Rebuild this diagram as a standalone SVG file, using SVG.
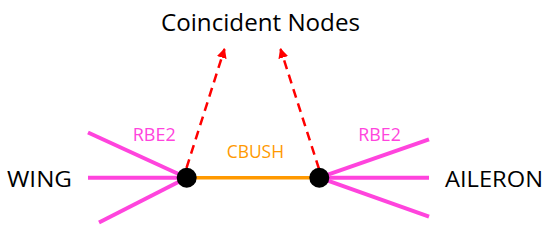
<svg xmlns="http://www.w3.org/2000/svg" width="550" height="233" viewBox="0 0 550 233">
<style>
text{font-family:"Open Sans","Liberation Sans",sans-serif}
.lbl{font-size:22px;fill:#000}
.rbe{stroke:#FF44DD;stroke-width:4;fill:none}
.cbush{stroke:#FF9900;stroke-width:3.5;fill:none}
.dash{stroke:#FF0000;stroke-width:2.5;stroke-dasharray:9,6;fill:none}
.node{fill:#000}
</style>
<defs>
<marker id="ah" viewBox="0 0 10 10" refX="9" refY="5" markerWidth="4" markerHeight="4" orient="auto" markerUnits="strokeWidth">
<path d="M0,0 L10,5 L0,10 Z" fill="#FF0000"/>
</marker>
</defs>
<rect width="550" height="233" fill="#fff"/>
<g id="connectors">
<line class="rbe" x1="88" y1="132.5" x2="186.7" y2="177.7"/>
<line class="rbe" x1="88" y1="177.7" x2="186.7" y2="177.7"/>
<line class="rbe" x1="99" y1="222.5" x2="186.7" y2="177.7"/>
<line class="rbe" x1="429" y1="139.3" x2="319.3" y2="177.7"/>
<line class="rbe" x1="429" y1="177.7" x2="319.3" y2="177.7"/>
<line class="rbe" x1="429" y1="216.7" x2="319.3" y2="177.7"/>
<line class="cbush" x1="186.7" y1="177.7" x2="319.3" y2="177.7"/>
<line class="dash" x1="186.5" y1="168" x2="224.5" y2="49" marker-end="url(#ah)"/>
<line class="dash" x1="319" y1="169" x2="280.5" y2="49" marker-end="url(#ah)"/>
</g>
<g id="node-wing-side"><circle class="node" cx="186.7" cy="177.7" r="10"/></g>
<g id="node-aileron-side"><circle class="node" cx="319.3" cy="177.7" r="10"/></g>
<g id="title"><text class="lbl" x="161" y="31" font-size="24" textLength="199" lengthAdjust="spacingAndGlyphs" style="font-size:24px">Coincident Nodes</text></g>
<g id="wing"><text class="lbl" x="7" y="187" textLength="65" lengthAdjust="spacingAndGlyphs">WING</text></g>
<g id="aileron"><text class="lbl" x="445" y="187" textLength="98" lengthAdjust="spacingAndGlyphs">AILERON</text></g>
<g id="rbe2-left"><text x="132.7" y="141.3" style="font-size:18px;fill:#FF44DD" textLength="43" lengthAdjust="spacingAndGlyphs">RBE2</text></g>
<g id="rbe2-right"><text x="358.3" y="141.3" style="font-size:18px;fill:#FF44DD" textLength="42.5" lengthAdjust="spacingAndGlyphs">RBE2</text></g>
<g id="cbush-label"><text x="226.7" y="158.3" style="font-size:18px;fill:#FF9900" textLength="57.3" lengthAdjust="spacingAndGlyphs">CBUSH</text></g>
</svg>
